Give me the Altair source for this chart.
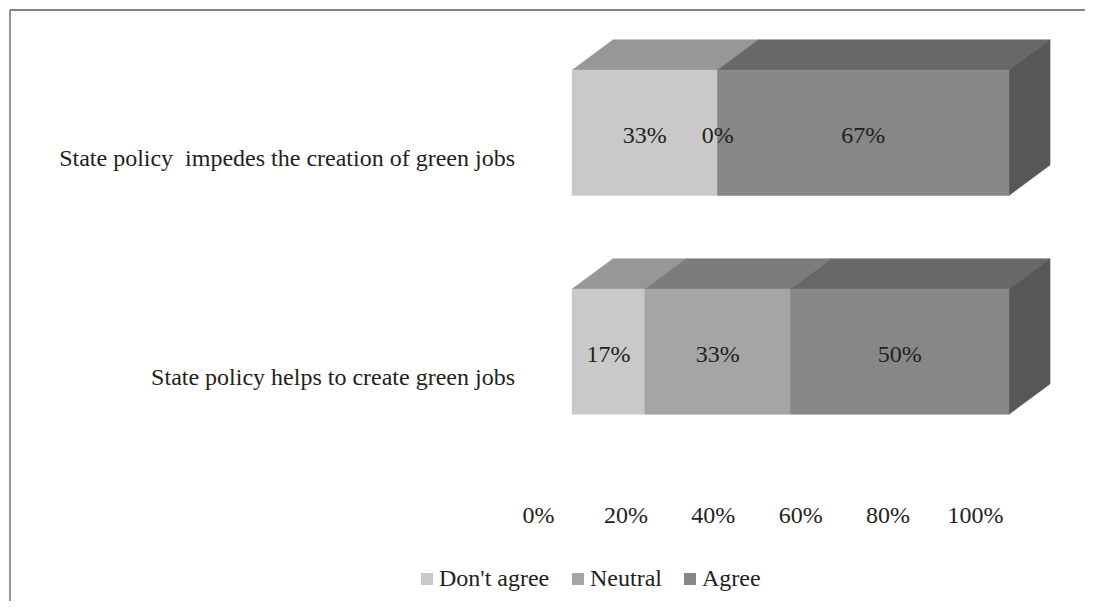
import altair as alt
import pandas as pd

# ---- data ----
categories = ["State policy\u00a0 impedes the creation of green jobs",
              "State policy helps to create green jobs"]
series = ["Don't agree", "Neutral", "Agree"]
dont_agree = [33.33, 16.67]
neutral = [0.0, 33.33]
agree = [66.67, 50.0]
x_ticks = [0, 20, 40, 60, 80, 100]

# ---- styling ----
FONT = "Liberation Serif"
FS = 24
TXT = "#231f20"
front_colors = ["#c9c9c9", "#a5a5a5", "#878787"]
top_colors = ["#979797", "#7c7c7c", "#686868"]
side_color = "#575757"
HALF = 0.286       # half bar thickness (y units)
DX = 9.4           # 3-D depth, x units
DY = 0.139         # 3-D depth, y units

vals = [dont_agree, neutral, agree]
fronts, tops, sides, labels, cats = [], [], [], [], []
for i, cat in enumerate(categories):
    yc = 1 - i
    cats.append({"cat": cat, "yc": yc})
    x0 = 0.0
    for s, name in enumerate(series):
        v = vals[s][i]
        x1 = x0 + v
        fronts.append({"series": name, "x0": x0, "x1": x1, "ylo": yc - HALF,
                       "yhi": yc + HALF, "c": front_colors[s]})
        pid = f"{i}-{s}"
        tops.append({"pid": pid, "yy": yc + HALF, "xa": x0, "xb": x1, "c": top_colors[s]})
        tops.append({"pid": pid, "yy": yc + HALF + DY, "xa": x0 + DX, "xb": x1 + DX, "c": top_colors[s]})
        labels.append({"xm": (x0 + x1) / 2, "yc": yc, "t": f"{round(v):d}%"})
        x0 = x1
    sides.append({"pid": f"s{i}", "xx": x0, "ya": yc - HALF, "yb": yc + HALF, "c": side_color})
    sides.append({"pid": f"s{i}", "xx": x0 + DX, "ya": yc - HALF + DY, "yb": yc + HALF + DY, "c": side_color})

xscale = alt.Scale(domain=[0, 100], nice=False, zero=False)
yscale = alt.Scale(domain=[-0.2846, 1.424], nice=False, zero=False)
xaxis = alt.Axis(values=x_ticks, labelExpr="datum.value + '%'", labelOffset=-34,
                 labelPadding=89, ticks=False, domain=False, grid=False, title=None,
                 labelFlush=False, labelOverlap=False, labelBound=False,
                 labelFont=FONT, labelFontSize=FS, labelColor=TXT)

front = alt.Chart(pd.DataFrame(fronts)).mark_rect(strokeWidth=0.5).encode(
    x=alt.X("x0:Q", scale=xscale, axis=xaxis),
    x2="x1:Q",
    y=alt.Y("ylo:Q", scale=yscale, axis=None),
    y2="yhi:Q",
    color=alt.Color("series:N", scale=alt.Scale(domain=series, range=front_colors),
                    sort=series,
                    legend=alt.Legend(orient="none", legendX=-157, legendY=527,
                                      direction="horizontal", title=None,
                                      symbolType="square", symbolSize=144,
                                      symbolStrokeWidth=0, labelFont=FONT,
                                      labelFontSize=FS, labelColor=TXT,
                                      columnPadding=16, labelOffset=0, padding=0)),
    stroke=alt.Stroke("c:N", scale=None),
)

top = alt.Chart(pd.DataFrame(tops)).mark_area(orient="horizontal", strokeWidth=0.5).encode(
    y=alt.Y("yy:Q", scale=yscale, axis=None),
    x=alt.X("xa:Q", scale=xscale, axis=xaxis, stack=None),
    x2="xb:Q",
    detail="pid:N",
    fill=alt.Fill("c:N", scale=None),
    stroke=alt.Stroke("c:N", scale=None),
)

side = alt.Chart(pd.DataFrame(sides)).mark_area(orient="vertical", strokeWidth=0.5).encode(
    x=alt.X("xx:Q", scale=xscale, axis=xaxis),
    y=alt.Y("ya:Q", scale=yscale, axis=None, stack=None),
    y2="yb:Q",
    detail="pid:N",
    fill=alt.Fill("c:N", scale=None),
    stroke=alt.Stroke("c:N", scale=None),
)

vlabels = alt.Chart(pd.DataFrame(labels)).mark_text(
    font=FONT, fontSize=FS, color=TXT, baseline="alphabetic", dy=10.5
).encode(
    x=alt.X("xm:Q", scale=xscale, axis=xaxis),
    y=alt.Y("yc:Q", scale=yscale, axis=None),
    text="t:N",
)

clabels = alt.Chart(pd.DataFrame(cats)).mark_text(
    font=FONT, fontSize=FS, color=TXT, baseline="alphabetic", align="right", dy=33
).encode(
    x=alt.value(-57),
    y=alt.Y("yc:Q", scale=yscale, axis=None),
    text="cat:N",
)

frame_df = pd.DataFrame({"k": [0]})
frame_top = alt.Chart(frame_df).mark_rule(color="#5a5a5a", strokeWidth=1.3).encode(
    x=alt.value(-562), x2=alt.value(530), y=alt.value(-30))
frame_left = alt.Chart(frame_df).mark_rule(color="#5a5a5a", strokeWidth=1.3).encode(
    x=alt.value(-562), y=alt.value(-30), y2=alt.value(580))

chart = alt.layer(frame_top, frame_left, top, side, front, vlabels, clabels).properties(
    width=437, height=374,
    autosize=alt.AutoSizeParams(type="none"),
    padding={"left": 564, "top": 32, "right": 76, "bottom": 187},
).configure_view(stroke=None)

chart.save("out.html", embed_options={"renderer": "svg", "actions": False})
